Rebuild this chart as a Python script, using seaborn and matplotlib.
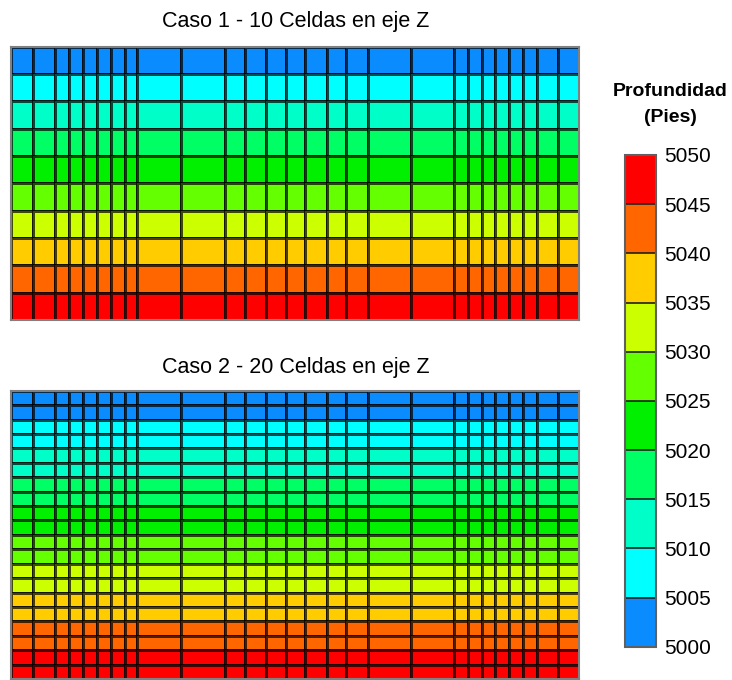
import numpy as np
import matplotlib
matplotlib.use("Agg")
import matplotlib.pyplot as plt
from matplotlib.colors import ListedColormap, BoundaryNorm
import seaborn as sns

# anchos de columna (malla refinada en x)
col_widths = [22, 22, 14, 14, 14, 13.7, 13.7, 12.6, 43.7, 44.3, 20, 20.7, 20, 19,
              21.7, 19.3, 21.7, 43, 43.6, 14, 13.4, 13.3, 14, 13.7, 14, 21.6, 21]

# profundidad del centro de cada fila (pies)
depth_caso1 = [5002.5, 5007.5, 5012.5, 5017.5, 5022.5,
               5027.5, 5032.5, 5037.5, 5042.5, 5047.5]
depth_caso2 = [5001.25, 5003.75, 5006.25, 5008.75, 5011.25, 5013.75, 5016.25,
               5018.75, 5021.25, 5023.75, 5026.25, 5028.75, 5031.25, 5033.75,
               5036.25, 5038.75, 5041.25, 5043.75, 5046.25, 5048.75]

niveles = [5000, 5005, 5010, 5015, 5020, 5025, 5030, 5035, 5040, 5045, 5050]
colores = ['#0A8CFF', '#00FFFF', '#00FFC8', '#00FF64', '#00F000',
           '#64FF00', '#CCFF00', '#FFCC00', '#FF6600', '#FF0000']

titulos = ['Caso 1 - 10 Celdas en eje Z', 'Caso 2 - 20 Celdas en eje Z']

sns.set_theme(style="white")
plt.rcParams['font.family'] = ['Liberation Sans', 'DejaVu Sans']
plt.rcParams['text.color'] = 'black'
plt.rcParams['ytick.color'] = 'black'

W, H = 732, 680
fig = plt.figure(figsize=(W / 100, H / 100), dpi=100)


def px_axes(x0, y0, x1, y1):
    # rectangulo en pixeles (origen arriba a la izquierda)
    return fig.add_axes([x0 / W, 1 - y1 / H, (x1 - x0) / W, (y1 - y0) / H])


cmap = ListedColormap(colores)
norm = BoundaryNorm(niveles, cmap.N)
x_edges = np.concatenate([[0], np.cumsum(col_widths)])

paneles = [(depth_caso1, (11.3, 46.7, 579.3, 320), 22),
           (depth_caso2, (11.3, 390.7, 579.3, 679), 368)]

for (depth, caja, y_tit), titulo in zip(paneles, titulos):
    ax = px_axes(*caja)
    z = np.tile(np.array(depth)[:, None], (1, len(col_widths)))
    ax.pcolormesh(x_edges, np.arange(len(depth) + 1), z, cmap=cmap, norm=norm,
                  edgecolors=(0, 0, 0, 0.7), linewidth=0.8)
    ax.set_xlim(x_edges[0], x_edges[-1])
    ax.set_ylim(len(depth), 0)
    ax.set_xticks([])
    ax.set_yticks([])
    for s in ax.spines.values():
        s.set_color('#808080')
        s.set_linewidth(1.5)
    fig.text((caja[0] + caja[2]) / 2 / W, 1 - y_tit / H, titulo,
             ha='center', va='center', fontsize=15.5, color='black')

# barra de colores
cax = px_axes(625, 155, 655.7, 646.7)
sm = plt.cm.ScalarMappable(cmap=cmap, norm=norm)
cb = fig.colorbar(sm, cax=cax, ticks=niveles, drawedges=True)
cb.outline.set_edgecolor('#606060')
cb.outline.set_linewidth(1.5)
cb.dividers.set_color('#202020')
cb.dividers.set_linewidth(1.2)
cax.tick_params(length=0, pad=6, labelsize=15, labelcolor='black')
cax.set_yticklabels([str(v) for v in niveles])

fig.text(670.5 / W, 1 - 92 / H, 'Profundidad', ha='center', va='center',
         fontsize=14, fontweight='bold')
fig.text(670.5 / W, 1 - 117 / H, '(Pies)', ha='center', va='center',
         fontsize=14, fontweight='bold')

fig.savefig('out.png', dpi=100)
